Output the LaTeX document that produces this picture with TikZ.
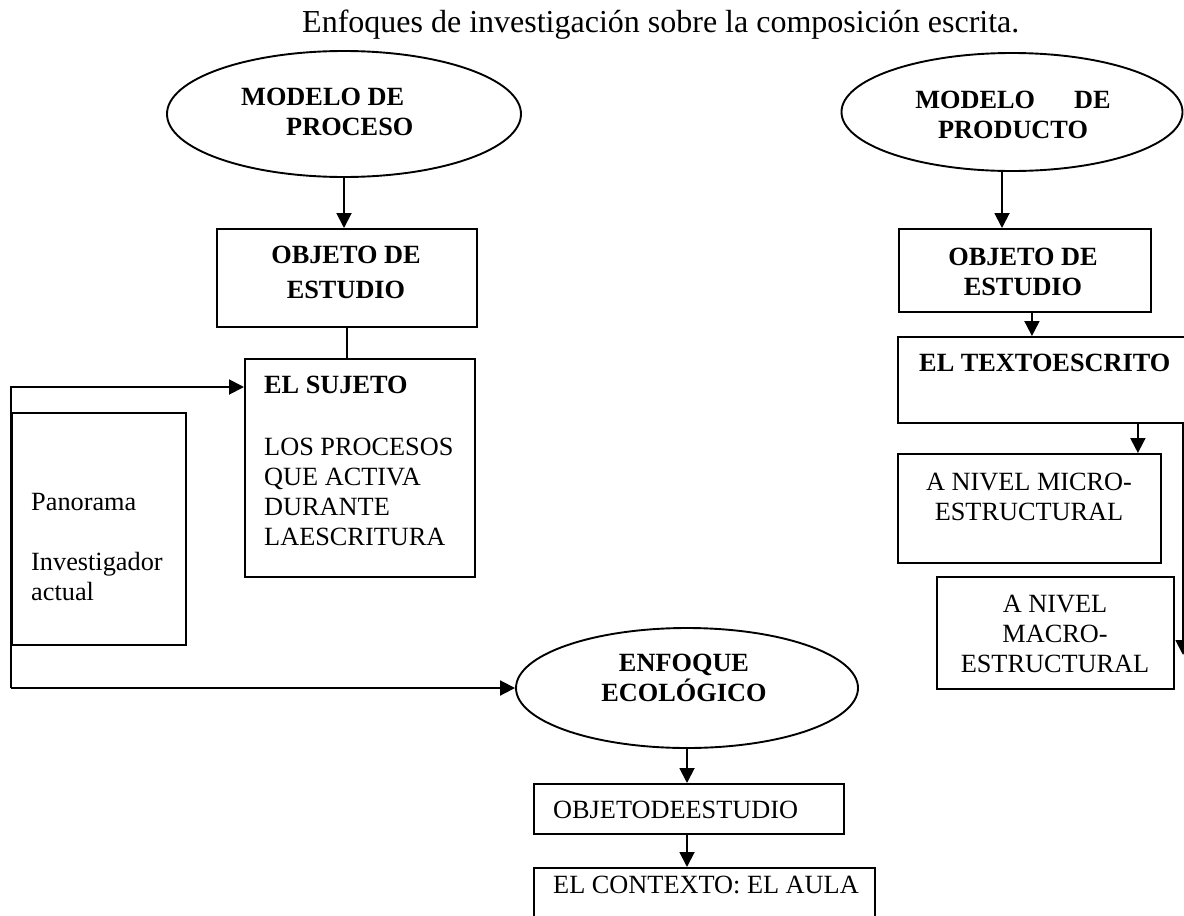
\documentclass[tikz,border=0pt]{standalone}
\usepackage{fontspec}
\setmainfont{Liberation Serif}
\usetikzlibrary{arrows.meta,shapes.geometric}
\newcommand{\fsz}{\fontsize{26.3}{30}\selectfont}
\newcommand{\fszt}{\fontsize{32}{36}\selectfont}
\begin{document}
\begin{tikzpicture}[x=1pt,y=-1pt,
  box/.style={draw, line width=1.9pt, rectangle, inner sep=0pt, anchor=north west},
  oval/.style={draw, line width=1.9pt, ellipse, inner sep=0pt},
  txt/.style={inner sep=0pt, font=\fsz},
  btxt/.style={inner sep=0pt, font=\fsz\bfseries},
  arr/.style={line width=1.9pt, -{Triangle[width=15pt,length=15pt]}},
  ln/.style={line width=1.9pt}]
\useasboundingbox (0,0) rectangle (1184,916);
\fill[white] (0,0) rectangle (1184,916);
\clip (0,0) rectangle (1184,916);

% title
\node[inner sep=0pt, font=\fszt, anchor=base west] (title) at (302,32) {Enfoques de investigación sobre la composición escrita.};

% left column
\node[oval, minimum width=354pt, minimum height=126pt] (mp1) at (344,114) {};
\node[btxt, align=left, anchor=north west] (tmp1) at (241,88) {MODELO DE\\\hspace*{45pt}PROCESO};
\node[box, minimum width=260pt, minimum height=98pt] (ob1) at (216,228) {};
\node[btxt, align=center, anchor=north] (tob1) at (346,246) {OBJETO DE\\[5pt]ESTUDIO};
\node[box, minimum width=230pt, minimum height=218pt] (suj) at (244,358) {};
\node[txt, align=left, anchor=north west] (tsuj) at (264,376) {\textbf{EL SUJETO}\\[32pt]LOS PROCESOS\\QUE ACTIVA\\DURANTE\\LAESCRITURA};
\node[box, minimum width=174pt, minimum height=232pt] (pan) at (11,412) {};
\node[txt, align=left, anchor=north west] (tpan) at (31,493) {Panorama\\[30pt]Investigador\\actual};

% ecological
\node[oval, minimum width=342pt, minimum height=120pt] (ee) at (687,688) {};
\node[btxt, align=center, anchor=north] (tee) at (684,654) {ENFOQUE\\ECOLÓGICO};
\node[box, minimum width=310pt, minimum height=50pt] (ode) at (533,783) {};
\node[txt, anchor=north west] (tode) at (553,801) {OBJETODEESTUDIO};
\node[box, minimum width=341pt, minimum height=80pt] (ctx) at (533,867) {};
\node[txt, anchor=north west] (tctx) at (553,876) {EL CONTEXTO: EL AULA};

% right column
\node[oval, minimum width=341pt, minimum height=118pt] (mp2) at (1012,112) {};
\node[btxt, align=center, anchor=north] (tmp2) at (1013,91) {MODELO\hspace*{39pt}DE\\PRODUCTO};
\node[box, minimum width=252pt, minimum height=83pt] (ob2) at (898,228) {};
\node[btxt, align=center, anchor=north] (tob2) at (1023,248) {OBJETO DE\\ESTUDIO};
\node[box, minimum width=300pt, minimum height=86pt] (tex) at (897,336) {};
\node[btxt, anchor=north west] (ttex) at (919,354) {EL TEXTOESCRITO};
\node[box, minimum width=263pt, minimum height=109pt] (mic) at (897,453) {};
\node[txt, align=center, anchor=north] (tmic) at (1029,473) {A NIVEL MICRO-\\ESTRUCTURAL};
\node[box, minimum width=237pt, minimum height=112pt] (mac) at (936,576) {};
\node[txt, align=center, anchor=north] (tmac) at (1055,595) {A NIVEL\\MACRO-\\ESTRUCTURAL};

% connectors left
\draw[arr] (mp1.south) -- (mp1.south |- ob1.north);
\draw[ln] (ob1.south) -- (ob1.south |- suj.north);
\coordinate (lt) at (11,387);
\coordinate (lb) at (11,688);
\draw[arr] (lb) -- (lt) -- (lt -| suj.west);
\draw[arr] (lb) -- (ee.west);
\draw[arr] (ee.south) -- (ee.south |- ode.north);
\draw[arr] (ee.south |- ode.south) -- (ee.south |- ctx.north);

% connectors right
\coordinate (r1) at ([xshift=-10pt]mp2.south);
\draw[arr] (r1) -- (r1 |- ob2.north);
\coordinate (r2) at ([xshift=7pt]ob2.south);
\draw[arr] (r2) -- (r2 |- tex.north);
\coordinate (m1) at ([xshift=-24pt]mic.north east);
\draw[arr] (m1 |- tex.south) -- (m1);
\coordinate (re) at (1183,655);
\draw[arr] (re |- tex.south) -- (re);
\end{tikzpicture}
\end{document}
